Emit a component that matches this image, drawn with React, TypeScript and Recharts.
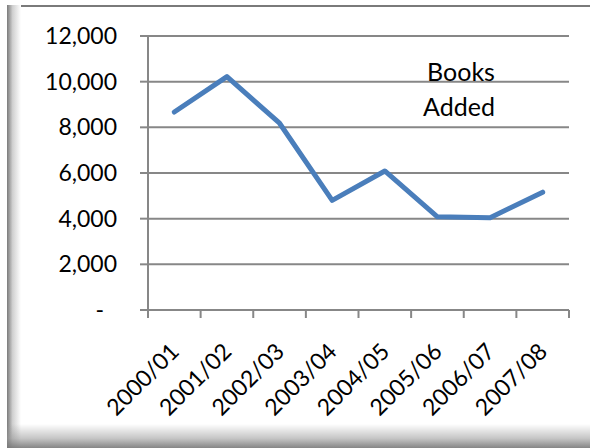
import React from 'react';
import { ComposedChart, Line, XAxis, YAxis, CartesianGrid, Customized } from 'recharts';

const years = ['2000/01', '2001/02', '2002/03', '2003/04', '2004/05', '2005/06', '2006/07', '2007/08'];
const booksAdded = [8670, 10220, 8180, 4800, 6090, 4080, 4040, 5160];
const yTicks = [0, 2000, 4000, 6000, 8000, 10000, 12000];
const titleLines = ['Books', 'Added'];

// pos = centre of each category slot on a 0..N scale (slot boundaries carry the tick marks)
const data = years.map((year, i) => ({ year, pos: i + 0.5, books: booksAdded[i] }));
const boundaryTicks = Array.from({ length: years.length + 1 }, (_, i) => i);

const FONT = 'Lato, "Open Sans", sans-serif';
const GRAY = '#878787';

const YTick = (props: any) => {
  const { x, y, payload } = props;
  const v = payload.value as number;
  const label = v === 0 ? '-' : v.toLocaleString('en-US');
  return (
    <text x={v === 0 ? x - 13 : x} y={y} dy={8} textAnchor="end" fontSize={23} fontFamily={FONT} fill="#000">
      {label}
    </text>
  );
};

const XTick = (props: any) => {
  const { x, y, payload } = props;
  const ax = x + 6;
  const ay = y + 42;
  return (
    <text x={ax} y={ay} textAnchor="end" fontSize={23} fontFamily={FONT} fill="#000" transform={`rotate(-45, ${ax}, ${ay})`}>
      {payload.value}
    </text>
  );
};

const Title = () => (
  <text textAnchor="middle" fontSize={25} fontFamily={FONT} fill="#000">
    <tspan x={461} y={81}>{titleLines[0]}</tspan>
    <tspan x={459} y={116}>{titleLines[1]}</tspan>
  </text>
);

export default function App() {
  return (
    <div style={{ position: 'absolute', left: 0, top: 0, width: 590, height: 448, background: '#fff', overflow: 'hidden' }}>
      <div style={{ position: 'absolute', left: 7, top: 5, width: 583, height: 2, background: '#7a7a7a' }} />
      <div style={{ position: 'absolute', left: 7, top: 5, width: 14, height: 443, background: 'linear-gradient(to right, #7a7a7a, #d0d0d0 40%, #ffffff)' }} />
      <div style={{ position: 'absolute', left: 7, top: 424, width: 583, height: 24, background: 'linear-gradient(to bottom, rgba(255,255,255,0), rgba(150,150,150,0.55) 60%, rgba(120,120,120,0.9))' }} />
      <div style={{ position: 'absolute', left: 0, top: 0 }}>
        <ComposedChart width={590} height={448} data={data} margin={{ top: 36, right: 21, bottom: 37, left: 0 }}>
          <CartesianGrid xAxisId="b_cat" horizontal vertical={false} stroke={GRAY} strokeWidth={2} />
          <XAxis
            xAxisId="b_cat"
            dataKey="year"
            type="category"
            scale="band"
            height={100}
            axisLine={false}
            tickLine={false}
            tickSize={0}
            tickMargin={0}
            interval={0}
            tick={<XTick />}
          />
          <XAxis
            xAxisId="a_edge"
            dataKey="pos"
            type="number"
            domain={[0, years.length]}
            ticks={boundaryTicks}
            interval={0}
            allowDataOverflow
            height={1}
            axisLine={{ stroke: GRAY, strokeWidth: 2 }}
            tickLine={{ stroke: GRAY, strokeWidth: 2 }}
            tickSize={8}
            tick={() => <g />}
          />
          <YAxis
            domain={[0, 12000]}
            ticks={yTicks}
            width={148}
            axisLine={{ stroke: GRAY, strokeWidth: 2 }}
            tickLine={{ stroke: GRAY, strokeWidth: 2 }}
            tickSize={8}
            tickMargin={23}
            tick={<YTick />}
          />
          <Line
            xAxisId="a_edge"
            type="linear"
            dataKey="books"
            stroke="#4A7EBB"
            strokeWidth={5}
            strokeLinejoin="round"
            strokeLinecap="round"
            dot={false}
            activeDot={false}
            isAnimationActive={false}
          />
          <Customized component={Title} />
        </ComposedChart>
      </div>
    </div>
  );
}
